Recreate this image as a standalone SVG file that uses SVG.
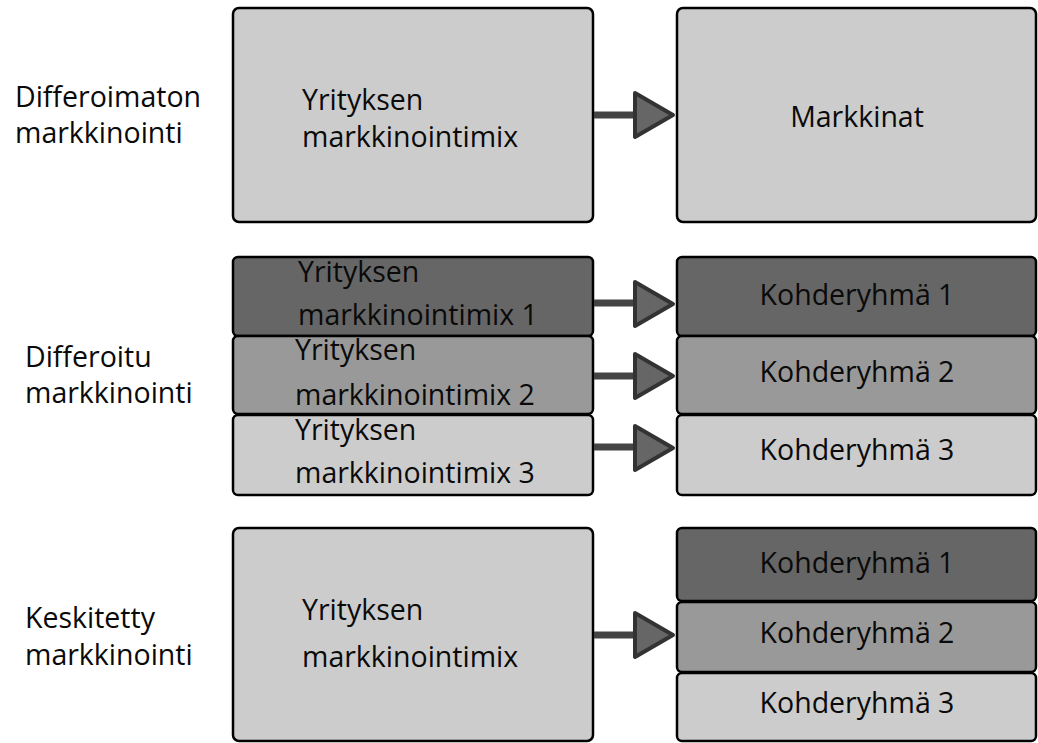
<svg xmlns="http://www.w3.org/2000/svg" width="1038" height="743" viewBox="0 0 1038 743">
  <defs>
    <style>
      .box { stroke: #000; stroke-width: 2.5; }
      .dark { fill: #666; }
      .mid { fill: #999; }
      .light { fill: #ccc; }
      text { font-family: "Open Sans", "Noto Sans", sans-serif; font-size: 28.5px; fill: #0a0a0a; }
      .c { text-anchor: middle; }
      .shaft { stroke: #444; stroke-width: 7; fill: none; }
      .head { fill: #666; stroke: #333; stroke-width: 4; stroke-linejoin: round; }
    </style>
  </defs>

  <rect width="1038" height="743" fill="#fff"/>

  <!-- Row labels -->
  <g id="label-undiff">
    <text x="15" y="107">Differoimaton</text>
    <text x="15" y="143">markkinointi</text>
  </g>
  <g id="label-diff">
    <text x="25" y="367">Differoitu</text>
    <text x="25" y="403">markkinointi</text>
  </g>
  <g id="label-conc">
    <text x="25" y="628">Keskitetty</text>
    <text x="25" y="665">markkinointi</text>
  </g>

  <!-- Undifferentiated marketing -->
  <g id="mix-a">
    <rect class="box light" x="233" y="8" width="360" height="214" rx="6"/>
    <text x="302" y="110">Yrityksen</text>
    <text x="302" y="147">markkinointimix</text>
  </g>
  <g id="market-a">
    <rect class="box light" x="677" y="8" width="359" height="214" rx="6"/>
    <text class="c" x="857" y="127">Markkinat</text>
  </g>

  <!-- Differentiated marketing -->
  <g id="mix-b1">
    <rect class="box dark" x="233" y="257" width="360" height="79" rx="5"/>
    <text x="298" y="282">Yrityksen</text>
    <text x="298" y="325">markkinointimix 1</text>
  </g>
  <g id="mix-b2">
    <rect class="box mid" x="233" y="336" width="360" height="78" rx="5"/>
    <text x="295" y="360">Yrityksen</text>
    <text x="295" y="405">markkinointimix 2</text>
  </g>
  <g id="mix-b3">
    <rect class="box light" x="233" y="415" width="360" height="80" rx="5"/>
    <text x="295" y="440">Yrityksen</text>
    <text x="295" y="483">markkinointimix 3</text>
  </g>
  <g id="target-b1">
    <rect class="box dark" x="677" y="257" width="359" height="79" rx="5"/>
    <text class="c" x="857" y="305">Kohderyhmä 1</text>
  </g>
  <g id="target-b2">
    <rect class="box mid" x="677" y="336" width="359" height="78" rx="5"/>
    <text class="c" x="857" y="382">Kohderyhmä 2</text>
  </g>
  <g id="target-b3">
    <rect class="box light" x="677" y="415" width="359" height="80" rx="5"/>
    <text class="c" x="857" y="460">Kohderyhmä 3</text>
  </g>

  <!-- Concentrated marketing -->
  <g id="mix-c">
    <rect class="box light" x="233" y="528" width="360" height="213" rx="6"/>
    <text x="302" y="620">Yrityksen</text>
    <text x="302" y="667">markkinointimix</text>
  </g>
  <g id="target-c1">
    <rect class="box dark" x="677" y="528" width="359" height="73" rx="5"/>
    <text class="c" x="857" y="573">Kohderyhmä 1</text>
  </g>
  <g id="target-c2">
    <rect class="box mid" x="677" y="602" width="359" height="70" rx="5"/>
    <text class="c" x="857" y="643">Kohderyhmä 2</text>
  </g>
  <g id="target-c3">
    <rect class="box light" x="677" y="673" width="359" height="68" rx="5"/>
    <text class="c" x="857" y="713">Kohderyhmä 3</text>
  </g>

  <!-- Connectors -->
  <g id="connectors">
    <line class="shaft" x1="594" y1="115" x2="637" y2="115"/>
    <polygon class="head" points="635,93 673,115 635,137"/>

    <line class="shaft" x1="594" y1="303" x2="637" y2="303"/>
    <polygon class="head" points="635,282 673,304 635,326"/>

    <line class="shaft" x1="594" y1="376" x2="637" y2="376"/>
    <polygon class="head" points="635,354 673,376 635,398"/>

    <line class="shaft" x1="594" y1="447" x2="637" y2="447"/>
    <polygon class="head" points="635,426 673,448 635,470"/>

    <line class="shaft" x1="594" y1="635" x2="637" y2="635"/>
    <polygon class="head" points="635,613 673,635 635,657"/>
  </g>
</svg>
